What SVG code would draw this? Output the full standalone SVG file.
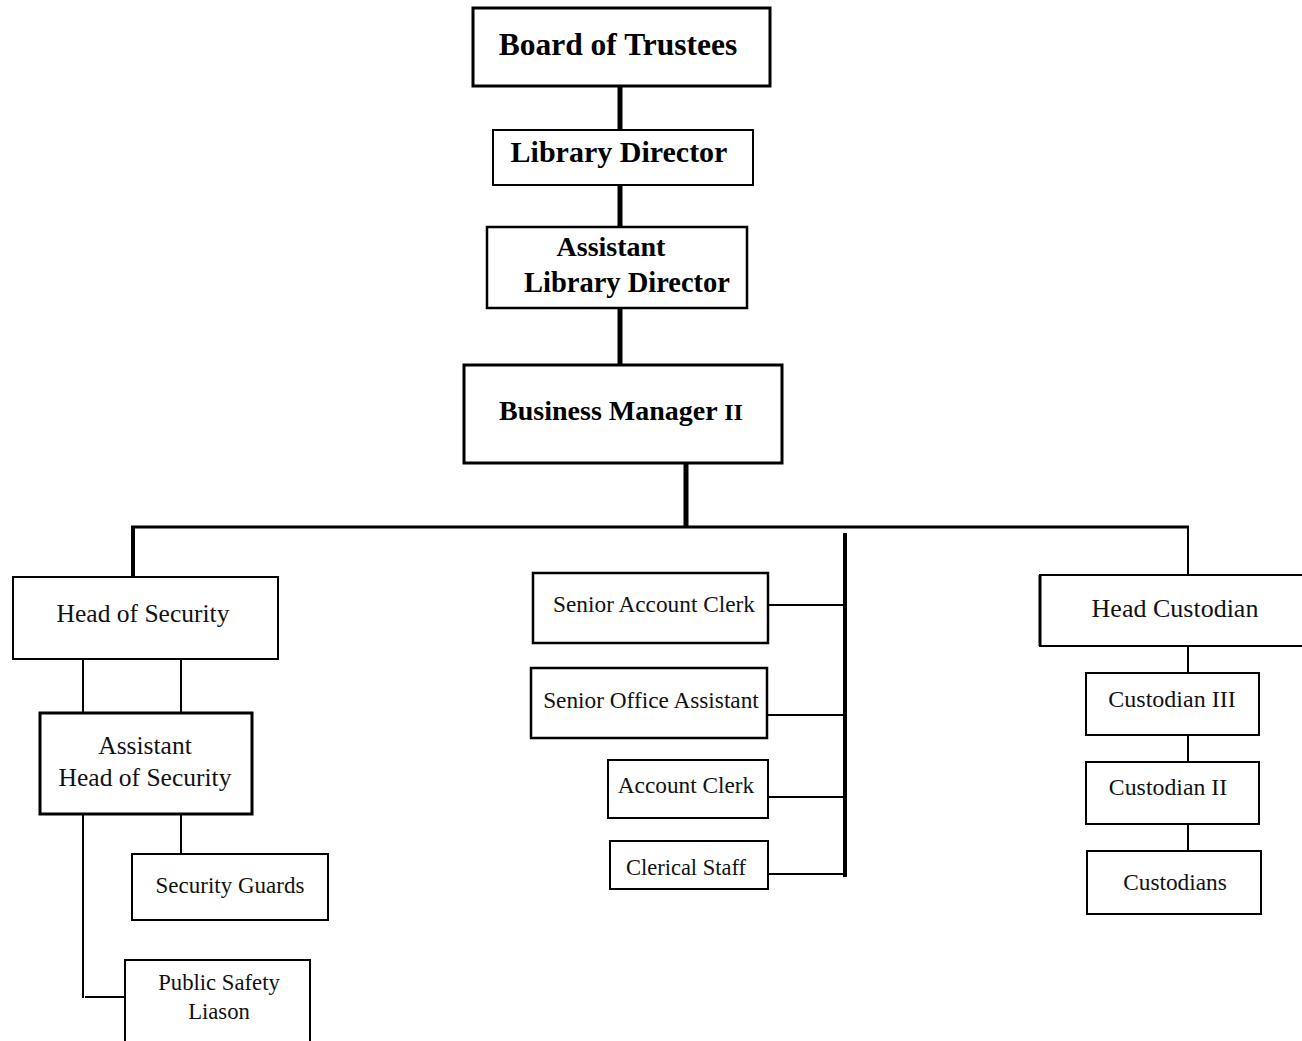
<svg xmlns="http://www.w3.org/2000/svg" width="1302" height="1041" viewBox="0 0 1302 1041">
<style>
.box{fill:#fff;stroke:#000}
.t{font-family:"Liberation Serif","Times New Roman",serif;fill:#111;text-anchor:middle}
.b{font-weight:bold;fill:#000}
.c{stroke:#000;fill:none}
</style>
<rect width="1302" height="1041" fill="#fff"/>
<g id="connectors">
<line class="c" x1="620" y1="86" x2="620" y2="130" stroke-width="5"/>
<line class="c" x1="620" y1="185" x2="620" y2="227" stroke-width="5"/>
<line class="c" x1="620" y1="308" x2="620" y2="365" stroke-width="5"/>
<line class="c" x1="686" y1="463" x2="686" y2="527" stroke-width="5"/>
<line class="c" x1="131" y1="527" x2="1189" y2="527" stroke-width="3"/>
<line class="c" x1="133" y1="526" x2="133" y2="577" stroke-width="4"/>
<line class="c" x1="1188" y1="526" x2="1188" y2="575" stroke-width="2"/>
<line class="c" x1="83" y1="659" x2="83" y2="713" stroke-width="2"/>
<line class="c" x1="181" y1="659" x2="181" y2="713" stroke-width="2"/>
<line class="c" x1="83" y1="814" x2="83" y2="998" stroke-width="2"/>
<line class="c" x1="85" y1="997" x2="125" y2="997" stroke-width="2"/>
<line class="c" x1="181" y1="814" x2="181" y2="854" stroke-width="2"/>
<line class="c" x1="845" y1="533" x2="845" y2="877" stroke-width="4"/>
<line class="c" x1="768" y1="605" x2="845" y2="605" stroke-width="2"/>
<line class="c" x1="767" y1="715" x2="845" y2="715" stroke-width="2"/>
<line class="c" x1="768" y1="797" x2="845" y2="797" stroke-width="2"/>
<line class="c" x1="768" y1="874" x2="845" y2="874" stroke-width="2"/>
<line class="c" x1="1188" y1="646" x2="1188" y2="673" stroke-width="2"/>
<line class="c" x1="1188" y1="735" x2="1188" y2="762" stroke-width="2"/>
<line class="c" x1="1188" y1="824" x2="1188" y2="851" stroke-width="2"/>
</g>
<g id="board"><rect class="box" x="473" y="8" width="297" height="78" stroke-width="3"/><text class="t b" x="618" y="55" font-size="31.5">Board of Trustees</text></g>
<g id="director"><rect class="box" x="493" y="130" width="260" height="55" stroke-width="2"/><text class="t b" x="619" y="162" font-size="30">Library Director</text></g>
<g id="asst-director"><rect class="box" x="487" y="227" width="260" height="81" stroke-width="2.5"/><text class="t b" x="611" y="256" font-size="28">Assistant</text><text class="t b" x="627" y="292" font-size="28.5">Library Director</text></g>
<g id="business-manager"><rect class="box" x="464" y="365" width="318" height="98" stroke-width="3"/><text class="t b" x="621" y="420" font-size="28">Business Manager <tspan font-size="24">II</tspan></text></g>
<g id="head-security"><rect class="box" x="13" y="577" width="265" height="82" stroke-width="2"/><text class="t" x="143" y="622" font-size="25.5">Head of Security</text></g>
<g id="asst-head-security"><rect class="box" x="40" y="713" width="212" height="101" stroke-width="3"/><text class="t" x="145" y="754" font-size="25.5">Assistant</text><text class="t" x="145" y="786" font-size="25.5">Head of Security</text></g>
<g id="security-guards"><rect class="box" x="132" y="854" width="196" height="66" stroke-width="2"/><text class="t" x="230" y="893" font-size="23">Security Guards</text></g>
<g id="public-safety"><rect class="box" x="125" y="960" width="185" height="90" stroke-width="2"/><text class="t" x="219" y="990" font-size="22.7">Public Safety</text><text class="t" x="219" y="1019" font-size="22.7">Liason</text></g>
<g id="senior-account-clerk"><rect class="box" x="533" y="573" width="235" height="70" stroke-width="2.5"/><text class="t" x="654" y="612" font-size="23.3">Senior Account Clerk</text></g>
<g id="senior-office-assistant"><rect class="box" x="531" y="668" width="236" height="70" stroke-width="2.5"/><text class="t" x="651" y="708" font-size="23.3">Senior Office Assistant</text></g>
<g id="account-clerk"><rect class="box" x="608" y="760" width="160" height="58" stroke-width="2"/><text class="t" x="686" y="793" font-size="23.3">Account Clerk</text></g>
<g id="clerical-staff"><rect class="box" x="610" y="841" width="158" height="48" stroke-width="2"/><text class="t" x="686" y="875" font-size="22.5">Clerical Staff</text></g>
<g id="head-custodian"><rect class="box" x="1040" y="575" width="280" height="71" stroke-width="2"/><line x1="1040" y1="575" x2="1040" y2="646" stroke="#000" stroke-width="3"/><text class="t" x="1175" y="617" font-size="26">Head Custodian</text></g>
<g id="custodian-iii"><rect class="box" x="1086" y="673" width="173" height="62" stroke-width="2"/><text class="t" x="1172" y="707" font-size="24">Custodian III</text></g>
<g id="custodian-ii"><rect class="box" x="1086" y="762" width="173" height="62" stroke-width="2"/><text class="t" x="1168" y="795" font-size="23.8">Custodian II</text></g>
<g id="custodians"><rect class="box" x="1087" y="851" width="174" height="63" stroke-width="2"/><text class="t" x="1175" y="890" font-size="23.3">Custodians</text></g>
</svg>
